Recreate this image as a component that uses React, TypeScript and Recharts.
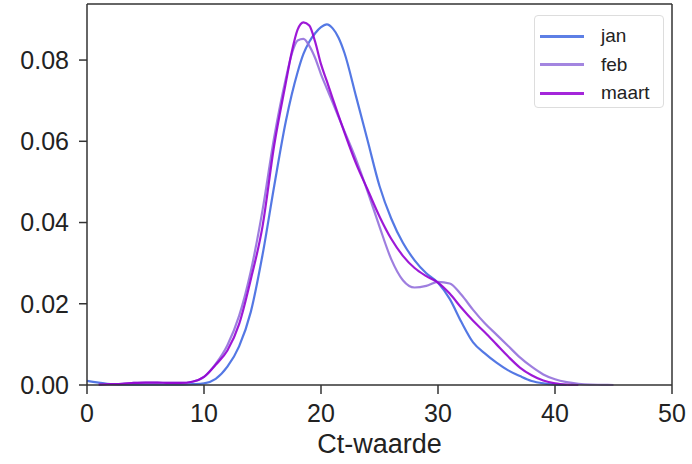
import { LineChart, Line, XAxis, YAxis, Legend, Label, ReferenceLine } from 'recharts';

document.body.style.margin = '0';

const xs = [0, 1, 2, 3, 4, 5, 6, 7, 8, 9, 10, 11, 12, 13, 14, 15, 16, 17, 17.5, 18, 18.5, 19,
  19.5, 20, 20.5, 21, 21.5, 22, 23, 24, 25, 26, 27, 28, 29, 30, 31, 32, 33, 34, 35, 36, 37, 38,
  39, 40, 41, 42, 43, 44, 45];

const jan = [0.001, 0.0006, 0.0002, 0.0001, 0.0001, 0.0001, 0.0001, 0.0001, 0.0001, 0.0002,
  0.0004, 0.0015, 0.0045, 0.0095, 0.018, 0.032, 0.049, 0.065, 0.0715, 0.077, 0.0815, 0.0845,
  0.0866, 0.0881, 0.0888, 0.0878, 0.0855, 0.0818, 0.071, 0.06, 0.049, 0.041, 0.035, 0.0307,
  0.0275, 0.0252, 0.0212, 0.0155, 0.0105, 0.0078, 0.0055, 0.0036, 0.0022, 0.001, 0.0004, 0.0001,
  0, null, null, null, null];

const feb = [null, 0.0001, 0.0002, 0.0003, 0.0005, 0.0006, 0.0006, 0.0005, 0.0005, 0.0008,
  0.002, 0.0052, 0.0098, 0.017, 0.028, 0.043, 0.061, 0.0755, 0.0815, 0.0848, 0.0852, 0.0835,
  0.0805, 0.0765, 0.073, 0.0695, 0.066, 0.0625, 0.0555, 0.0475, 0.039, 0.031, 0.0258, 0.024,
  0.0244, 0.0254, 0.025, 0.0222, 0.0185, 0.0152, 0.0124, 0.0096, 0.0068, 0.0045, 0.0026, 0.0014,
  0.0007, 0.0003, 0.0001, 0.00005, 0];

const maart = [null, 0.0001, 0.0002, 0.0003, 0.0005, 0.0006, 0.0006, 0.0005, 0.0005, 0.0008,
  0.002, 0.005, 0.0085, 0.015, 0.026, 0.039, 0.059, 0.0745, 0.082, 0.0875, 0.0893, 0.0885,
  0.0845, 0.079, 0.0748, 0.0705, 0.0663, 0.0622, 0.0545, 0.048, 0.0415, 0.036, 0.0318, 0.0288,
  0.0268, 0.0252, 0.0225, 0.019, 0.0158, 0.013, 0.01, 0.007, 0.0043, 0.0024, 0.0011, 0.0004,
  0.0001, 0, null, null, null];

const xTicks = [0, 10, 20, 30, 40, 50];
const yTicks = [0, 0.02, 0.04, 0.06, 0.08];
const yMax = 0.0938;

const series = [
  { key: 'jan', color: '#4169e1' },
  { key: 'feb', color: '#9370db' },
  { key: 'maart', color: '#9400d3' },
];

const data = xs.map((x, i) => ({ x, jan: jan[i], feb: feb[i], maart: maart[i] }));

const font = 'Liberation Sans, Arial, sans-serif';
const frame = '#333';

const LegendBox = () => (
  <div style={{
    border: '1px solid #ddd', borderRadius: 4, background: '#fff',
    padding: '6px 0 6px 5px', boxSizing: 'border-box', width: 130, height: 93,
    fontFamily: font, fontSize: 19, color: '#222',
  }}>
    {series.map(s => (
      <div key={s.key} style={{ display: 'flex', alignItems: 'center', height: 28.5 }}>
        <div style={{ width: 44, height: 3, background: s.color, opacity: 0.85, marginRight: 17 }} />
        <span>{s.key}</span>
      </div>
    ))}
  </div>
);

export default function App() {
  return (
    <LineChart width={692} height={464} data={data}
      margin={{ top: 4, right: 20, left: 0, bottom: 0 }}>
      <XAxis type="number" dataKey="x" domain={[0, 50]} ticks={xTicks} height={79}
        tickSize={9} tickMargin={10} interval={0}
        axisLine={{ stroke: frame, strokeWidth: 1.5 }} tickLine={{ stroke: frame, strokeWidth: 1.5 }}
        tick={{ fill: '#222', fontSize: 25, fontFamily: font }}>
        <Label value="Ct-waarde" position="insideBottom" offset={11}
          style={{ fill: '#222', fontSize: 27, fontFamily: font }} />
      </XAxis>
      <YAxis type="number" domain={[0, yMax]} ticks={yTicks} width={87}
        tickSize={8} tickMargin={10} interval={0} tickFormatter={(v: number) => v.toFixed(2)}
        axisLine={{ stroke: frame, strokeWidth: 1.5 }} tickLine={{ stroke: frame, strokeWidth: 1.5 }}
        tick={{ fill: '#222', fontSize: 25, fontFamily: font }} />
      <ReferenceLine y={yMax} stroke={frame} strokeWidth={1.5} />
      <ReferenceLine x={50} stroke={frame} strokeWidth={1.5} />
      <Legend layout="horizontal" align="center" verticalAlign="middle"
        wrapperStyle={{ top: 15, left: 534, width: 130, height: 93 }}
        content={() => <LegendBox />} />
      {series.map(s => (
        <Line key={s.key} type="monotone" dataKey={s.key} stroke={s.color} strokeWidth={2.2}
          strokeOpacity={0.9} dot={false} activeDot={false} isAnimationActive={false} />
      ))}
    </LineChart>
  );
}
